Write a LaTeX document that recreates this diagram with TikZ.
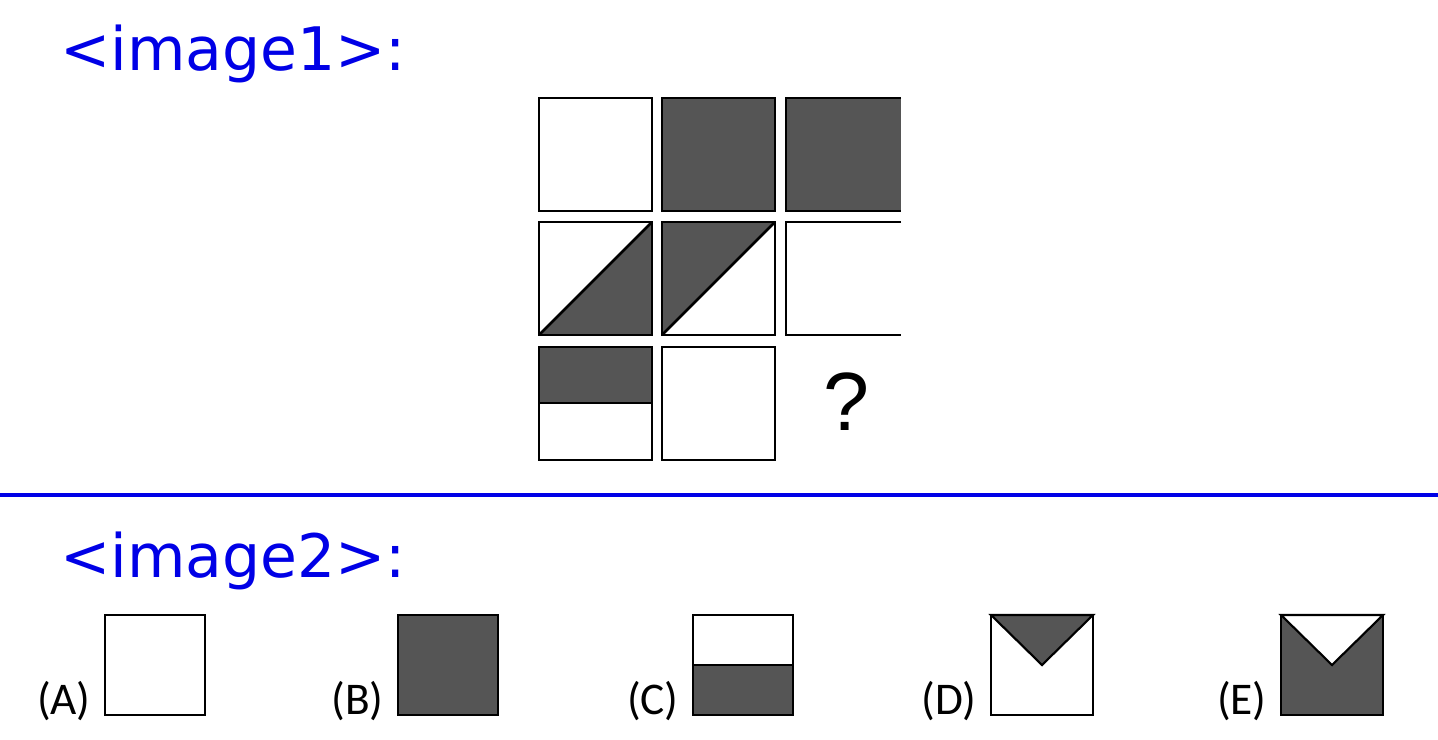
\documentclass[tikz,border=0pt]{standalone}
\usepackage{fontspec}
\newfontfamily\labfont{DejaVu Sans}
\newfontfamily\optfont{Carlito}
\newfontfamily\qfont{Liberation Sans}
\definecolor{dk}{RGB}{85,85,85}
\definecolor{bl}{RGB}{0,0,230}
\begin{document}
\begin{tikzpicture}[x=0.75pt,y=-0.75pt,
  cell/.style={draw=black,line width=2pt},
  obox/.style={draw=black,line width=1.6pt},
  head/.style={anchor=base west,inner sep=0pt,text=bl,font=\labfont\fontsize{45}{54}\selectfont},
  opt/.style={anchor=base east,inner sep=0pt,font=\optfont\fontsize{34}{40}\selectfont}]
\useasboundingbox (0,0) rectangle (1438,739);
\fill[white] (0,0) rectangle (1438,739);
% headings
\node[head] (lab1) at (60,70) {<image1>:};
\node[head] (lab2) at (60,577) {<image2>:};
% separator
\draw[bl,line width=3pt] (0,495) -- (1438,495);
% ---- grid row 1
\draw[cell,fill=white] (539,98) rectangle (652,211);
\draw[cell,fill=dk] (662,98) rectangle (775,211);
\fill[dk] (786,98) rectangle (901,211);
\draw[cell] (901,98) -- (786,98) -- (786,211) -- (901,211);
% ---- grid row 2
\fill[white] (539,222) rectangle (652,335);
\fill[dk] (539,335) -- (652,222) -- (652,335) -- cycle;
\draw[cell] (539,222) rectangle (652,335);
\draw[cell] (539,335) -- (652,222);
\fill[white] (662,222) rectangle (775,335);
\fill[dk] (662,335) -- (662,222) -- (775,222) -- cycle;
\draw[cell] (662,222) rectangle (775,335);
\draw[cell] (662,335) -- (775,222);
\draw[cell] (901,222) -- (786,222) -- (786,335) -- (901,335);
% ---- grid row 3
\fill[dk] (539,347) rectangle (652,403);
\draw[cell] (539,347) rectangle (652,460);
\draw[cell] (539,403) -- (652,403);
\draw[cell,fill=white] (662,347) rectangle (775,460);
\node[inner sep=0pt,font=\qfont\fontsize{62}{70}\selectfont] (q) at (846,402) {?};
% ---- options
\draw[obox,fill=white] (105,615) rectangle (205,715);
\node[opt] (oa) at (91,714) {(A)};
\draw[obox,fill=dk] (398,615) rectangle (498,715);
\node[opt] (ob) at (384,714) {(B)};
\fill[dk] (693,665) rectangle (793,715);
\draw[obox] (693,615) rectangle (793,715);
\draw[obox] (693,665) -- (793,665);
\node[opt] (oc) at (679,714) {(C)};
\draw[obox,fill=white] (991,615) rectangle (1093,715);
\draw[obox,fill=dk] (991,615) -- (1093,615) -- (1042,665) -- cycle;
\node[opt] (od) at (977,714) {(D)};
\draw[obox,fill=dk] (1281,615) rectangle (1383,715);
\draw[obox,fill=white] (1281,615) -- (1383,615) -- (1332,665) -- cycle;
\node[opt] (oe) at (1267,714) {(E)};
\end{tikzpicture}
\end{document}
